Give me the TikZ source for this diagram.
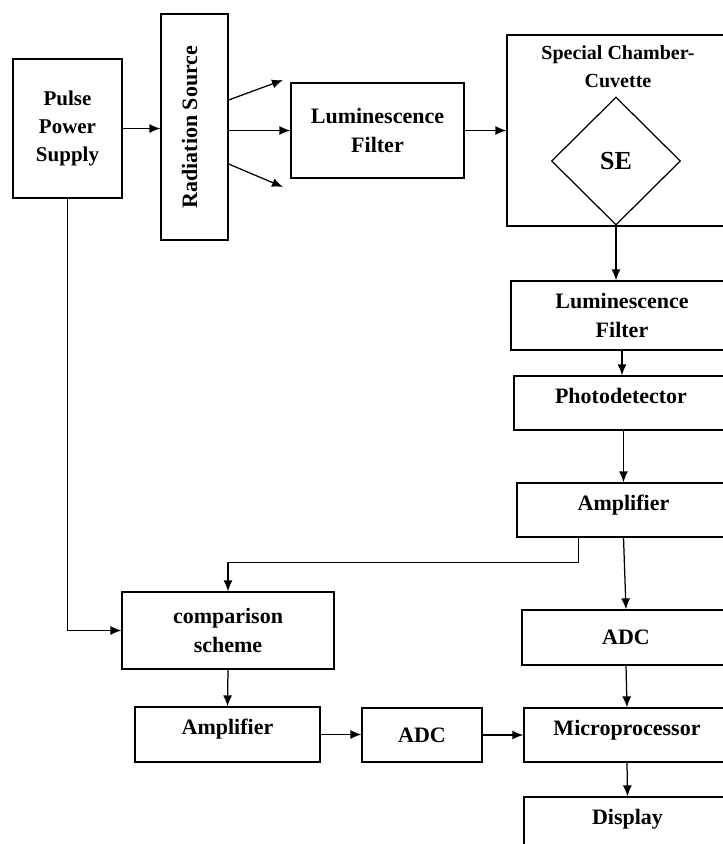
\documentclass[tikz,border=0pt]{standalone}
\usepackage{fontspec}
\setmainfont{Liberation Serif}
\usepackage{graphicx}
\usetikzlibrary{shapes.geometric,arrows.meta,positioning}

\begin{document}
\begin{tikzpicture}[x=1pt, y=-1pt, line width=1.25pt,
        box/.style={draw, rectangle, inner sep=2pt, align=center, font=\fontsize{22}{29}\selectfont\bfseries},
        high/.style={text height=12pt, text depth=12pt},
        title/.style={align=center, inner sep=2pt, font=\fontsize{20}{28}\selectfont\bfseries},
        arr/.style={-{Latex[length=11pt,width=9pt]}}]
        \useasboundingbox (0,0) rectangle (723,844);
        \clip (0,0) rectangle (723,844);

        \node[box, minimum width=109, minimum height=139, font=\fontsize{21}{28}\selectfont\bfseries] (pps) at (67.5,128.5) {Pulse\\Power\\Supply};
        \node[box, minimum width=67, minimum height=226] (rs) at (194.5,127) {\rotatebox{90}{Radiation Source}\hspace{10pt}};
        \node[box, minimum width=173, minimum height=95] (lf1) at (377.5,130.5) {Luminescence\\Filter};
        \node[draw, minimum width=222, minimum height=191] (chamber) at (618,130.5) {};
        \node[title, below=9pt of chamber.north] (chambertitle) {Special Chamber-\\Cuvette};
        \node[draw, diamond, aspect=1, inner sep=0pt, minimum width=129, minimum height=128, font=\fontsize{26}{30}\selectfont\bfseries] (se) at (616,161) {SE};

        \node[box, minimum width=222, minimum height=69] (lf2) at (622,315.5) {Luminescence\\Filter};
        \node[box, high, minimum width=214, minimum height=54] (pd) at (621,403) {Photodetector};
        \node[box, high, minimum width=213, minimum height=54] (amp) at (623.5,510) {Amplifier};
        \node[box, minimum width=208, minimum height=55] (adc) at (626,637.5) {ADC};
        \node[box, high, minimum width=206, minimum height=54] (micro) at (627,735) {Microprocessor};
        \node[box, high, minimum width=207, minimum height=54] (display) at (627.5,824) {Display};

        \node[box, minimum width=212, minimum height=77] (comp) at (228,630.5) {comparison\\scheme};
        \node[box, high, minimum width=185, minimum height=55] (amp2) at (227.5,734.5) {Amplifier};
        \node[box, minimum width=120, minimum height=54] (adc2) at (422,735) {ADC};

        \coordinate (rayup) at (283,80);
        \coordinate (raydown) at (283,187);

        \draw[arr] (pps.east) -- (pps.east -| rs.west);
        \draw[arr] ([yshift=27pt]rs.east) -- (rayup);
        \draw[arr] (rs.east |- lf1.west) -- (lf1.west);
        \draw[arr] ([yshift=-37pt]rs.east) -- (raydown);
        \draw[arr] (lf1.east) -- (lf1.east -| chamber.west);
        \draw[arr] (se.south) -- (se.south |- lf2.north);
        \draw[arr] (lf2.south) -- (lf2.south |- pd.north);
        \draw[arr] (amp.north |- pd.south) -- (amp.north);
        \draw[arr] (amp.south) -- (adc.north);
        \draw[arr] ([xshift=-45pt]amp.south) -- ++(0,25) -| (comp.north);
        \draw[arr] (pps.south) |- (comp.west);
        \draw[arr] (comp.south) -- (amp2.north);
        \draw[arr] (amp2.east) -- (amp2.east -| adc2.west);
        \draw[arr] (adc2.east) -- (adc2.east -| micro.west);
        \draw[arr] (adc.south) -- (micro.north);
        \draw[arr] (micro.south) -- (display.north);
    \end{tikzpicture}
\end{document}
